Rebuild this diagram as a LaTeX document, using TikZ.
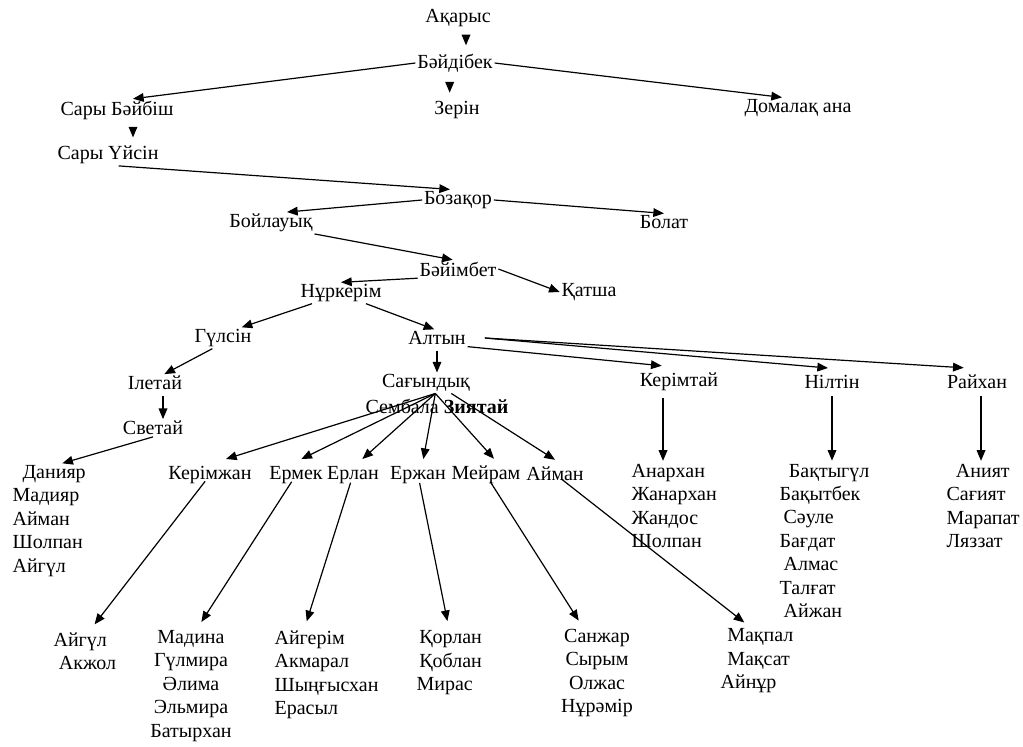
\documentclass[tikz,border=0pt]{standalone}
\usepackage{fontspec}
\setmainfont{Liberation Serif}
\usetikzlibrary{arrows.meta}

\tikzset{every picture/.style={line width=0.9pt}}
\tikzset{
  person/.style={inner sep=1pt, font=\fontsize{15}{17.6}\selectfont},
  head/.style={person, inner ysep=5pt},
  kids/.style={person, inner sep=0pt, align=left, anchor=west},
  arr/.style={-{Triangle[length=8pt,width=6.5pt]}},
}

\begin{document}
\begin{tikzpicture}[x=0.75pt,y=0.75pt,yscale=-1,xscale=1]
  \useasboundingbox (0,0) rectangle (1023,746);

  \draw (458,18) node [person] (akarys) {Ақарыс};
  \draw (455,63) node [person] (baydibek) {Бәйдібек};
  \draw (457,110) node [person] (zerin) {Зерін};
  \draw (117,110) node [person] (sarybaybish) {Сары Бәйбіш};
  \draw (798,108) node [person] (domalak) {Домалақ ана};
  \draw (108,155) node [person] (saryuysin) {Сары Үйсін};
  \draw (458,200) node [person] (bozakor) {Бозақор};
  \draw (271,223) node [person] (boylauyk) {Бойлауық};
  \draw (664,222) node [person] (bolat) {Болат};
  \draw (458,269) node [person] (baiymbet) {Бәйімбет};
  \draw (589,292) node [person] (katsha) {Қатша};
  \draw (341,293) node [person] (nurkerim) {Нұркерім};
  \draw (223,338) node [person] (gulsin) {Гүлсін};
  \draw (437,338) node [person] (altyn) {Алтын};
  \draw (155,383) node [person] (iletai) {Ілетай};
  \draw (153,428) node [person] (svetai) {Светай};
  \draw (426,383) node [person] (sagyndyk) {Сағындық};
  \draw (437,406) node [person] (sembala) {Сембала \textbf{Зиятай}};
  \draw (679,382) node [head] (kerimtai) {Керімтай};
  \draw (832,382) node [head] (niltin) {Нілтін};
  \draw (977,382) node [head] (raihan) {Райхан};

  \draw (210,475) node [head] (kerimzhan) {Керімжан};
  \draw (296,475) node [head] (ermek) {Ермек};
  \draw (353,475) node [head] (erlan) {Ерлан};
  \draw (418,475) node [head] (erzhan) {Ержан};
  \draw (486,475) node [head] (meiram) {Мейрам};
  \draw (555,474) node [head] (aiman) {Айман};

  \draw (12,521) node [kids] (daniyar) {\hspace{7.5pt}Данияр\\Мадияр\\Айман\\Шолпан\\Айгүл};
  \draw (53,651) node [kids] (aigul) {Айгүл\\\hspace{4pt}Акжол};
  \draw (191,686) node [kids, anchor=center, align=center] (madina) {Мадина\\Гүлмира\\Әлима\\Эльмира\\Батырхан};
  \draw (274,675) node [kids] (aigerim) {Айгерім\\Акмарал\\Шыңғысхан\\Ерасыл};
  \draw (416,663) node [kids] (korlan) {\hspace{2pt}Қорлан\\\hspace{2pt}Қоблан\\Мирас};
  \draw (597,673) node [kids, anchor=center, align=center] (sanzhar) {Санжар\\Сырым\\Олжас\\Нұрәмір};
  \draw (720,661) node [kids] (makpal) {\hspace{5pt}Мақпал\\\hspace{5pt}Мақсат\\Айнұр};
  \draw (631,506) node [kids] (anarhan) {Анархан\\Жанархан\\Жандос\\Шолпан};
  \draw (779,541) node [kids] (baktygul) {\hspace{7pt}Бақтыгүл\\Бақытбек\\\hspace{3pt}Сәуле\\Бағдат\\\hspace{3pt}Алмас\\Талғат\\\hspace{3pt}Айжан};
  \draw (946,506) node [kids] (aniyat) {\hspace{7pt}Аният\\Сағият\\Марапат\\Ляззат};

  \draw [arr, shorten <=6pt, shorten >=5pt] ([xshift=6pt]akarys.south) -- ([xshift=6pt]akarys.south |- baydibek.north);
  \draw [arr] (baydibek.west) -- ([xshift=12pt]sarybaybish.north);
  \draw [arr] (baydibek.east) -- ([xshift=-12pt]domalak.north);
  \draw [arr, shorten <=6pt, shorten >=5pt] ([xshift=-4pt]baydibek.south) -- ([xshift=-4pt]baydibek.south |- zerin.north);
  \draw [arr, shorten <=5pt, shorten >=5pt] ([xshift=12pt]sarybaybish.south) -- ([xshift=12pt]sarybaybish.south |- saryuysin.north);
  \draw [arr] ([xshift=8pt]saryuysin.south) -- ([xshift=-6pt]bozakor.north);

  \draw [arr] (bozakor.west) -- ([xshift=12pt]boylauyk.north);
  \draw [arr] (bozakor.east) -- (bolat.north);
  \draw [arr] (boylauyk.south east) -- ([xshift=-4pt]baiymbet.north);
  \draw [arr] (baiymbet.east) -- (katsha.west);
  \draw [arr] (baiymbet.south west) -- (nurkerim.north);
  \draw [arr] ([xshift=10pt]nurkerim.south west) -- ([xshift=14pt]gulsin.north);
  \draw [arr] ([xshift=-13pt]nurkerim.south east) -- ([xshift=-2pt]altyn.north);
  \draw [arr] ([xshift=-8pt]gulsin.south) -- ([xshift=7pt]iletai.north);
  \draw [arr, shorten <=3pt] ([xshift=6pt]iletai.south) -- ([xshift=6pt]iletai.south |- svetai.north);
  \draw [arr, shorten >=4pt] (svetai.south) -- ([xshift=6pt]daniyar.north);
  \draw [arr, shorten <=3pt] (altyn.south) -- (altyn.south |- sagyndyk.north);

  \draw [arr] (altyn.south east) -- ([xshift=-13pt]kerimtai.north);
  \draw [arr] ([xshift=13pt]altyn.east) -- ([xshift=-3pt]niltin.north);
  \draw [arr] ([xshift=13pt]altyn.east) -- ([xshift=-10pt]raihan.north);

  \coordinate (hub) at ([xshift=7pt]sagyndyk.south);
  \draw [arr] (hub) -- ([xshift=12pt]kerimzhan.north);
  \draw [arr] (hub) -- ([xshift=4pt]ermek.north);
  \draw [arr] (hub) -- ([xshift=7pt]erlan.north);
  \draw [arr] (hub) -- ([xshift=4pt]erzhan.north);
  \draw [arr] (hub) -- ([xshift=6pt]meiram.north);
  \draw [arr] ([xshift=12pt]hub) -- (aiman.north);

  \draw [arr, shorten <=6pt, shorten >=7pt] (kerimzhan.center) -- ([xshift=3pt]aigul.north);
  \draw [arr, shorten <=6pt, shorten >=7pt] (ermek.center) -- ([xshift=4pt]madina.north);
  \draw [arr, shorten <=6pt, shorten >=7pt] (erlan.center) -- ([xshift=-17pt]aigerim.north);
  \draw [arr, shorten <=6pt, shorten >=7pt] (erzhan.center) -- (korlan.north);
  \draw [arr, shorten <=6pt, shorten >=7pt] (meiram.center) -- ([xshift=-10pt]sanzhar.north);
  \draw [arr, shorten <=6pt, shorten >=7pt] (aiman.center) -- ([xshift=-4pt]makpal.north);

  \draw [arr, shorten >=2pt] ([xshift=-12pt]kerimtai.south) -- ([xshift=-12pt]kerimtai.south |- anarhan.north);
  \draw [arr, shorten >=2pt] (niltin.south) -- (niltin.south |- baktygul.north);
  \draw [arr, shorten >=2pt] ([xshift=3pt]raihan.south) -- ([xshift=3pt]raihan.south |- aniyat.north);

\end{tikzpicture}
\end{document}
